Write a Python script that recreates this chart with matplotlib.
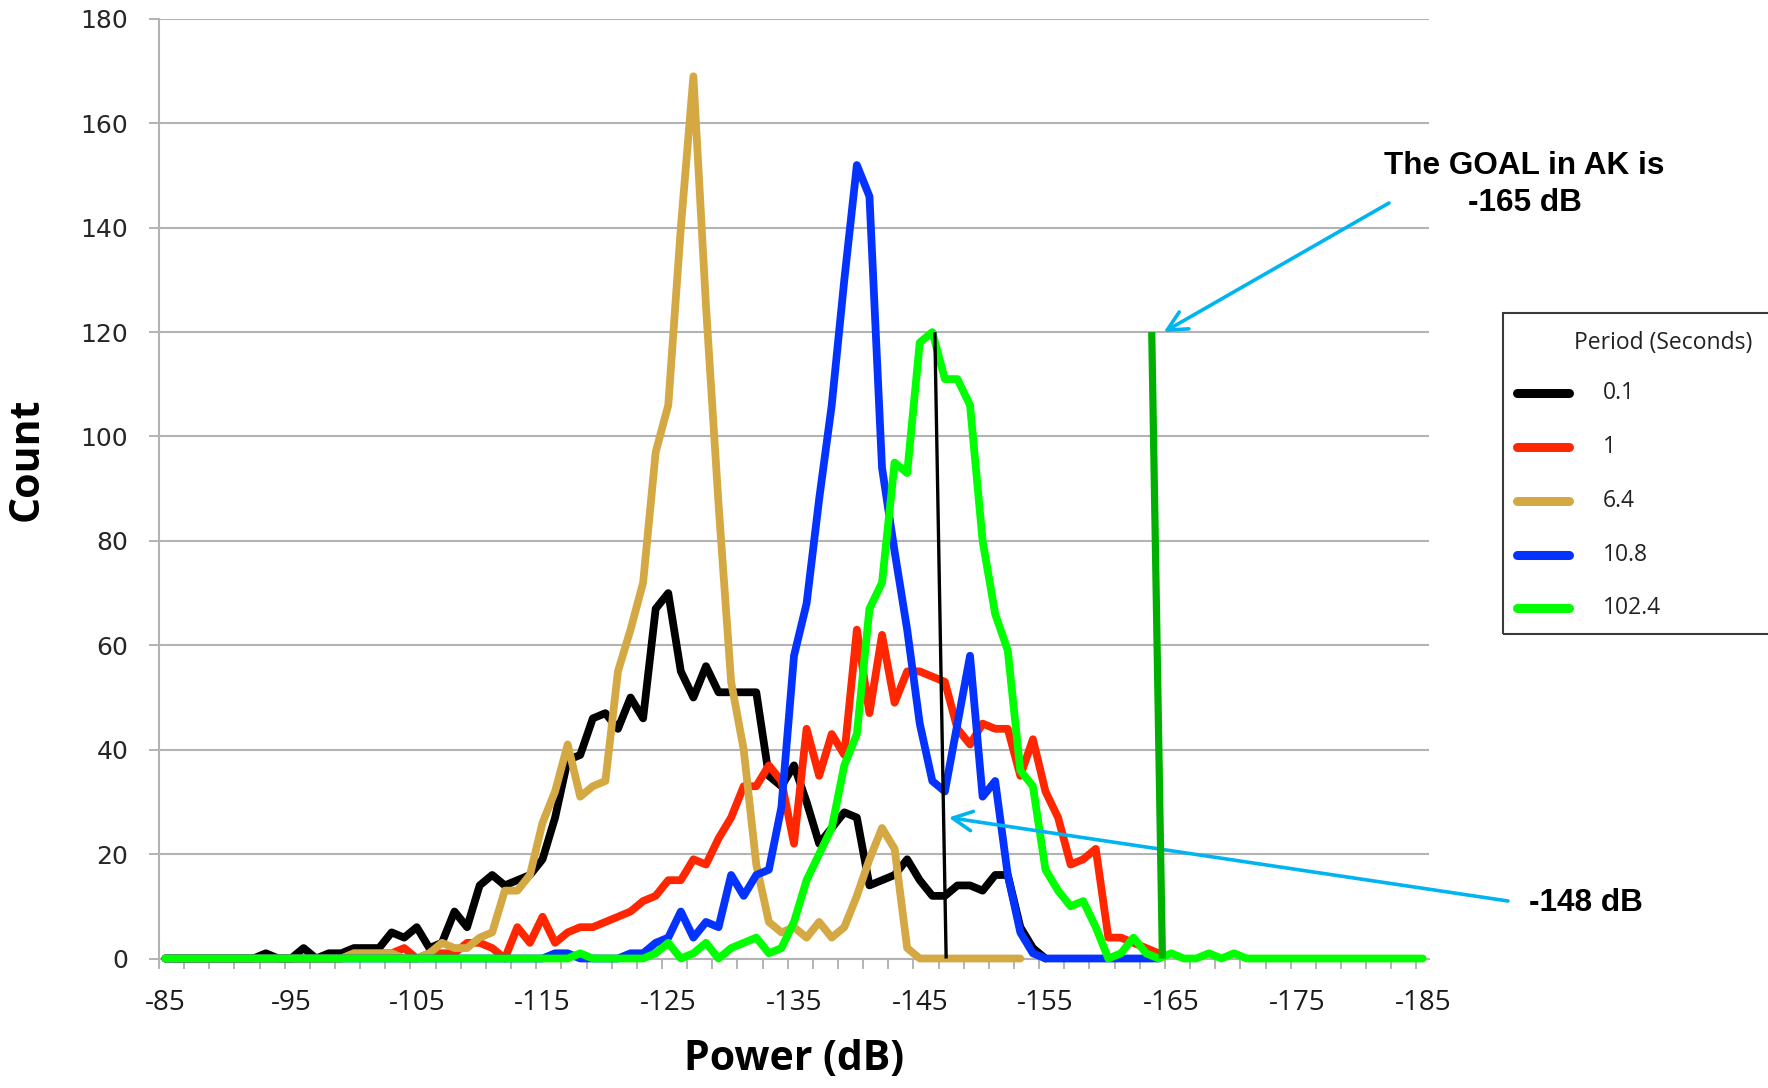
import matplotlib
matplotlib.use("Agg")
import matplotlib.pyplot as plt
from matplotlib.lines import Line2D
from matplotlib.patches import Rectangle

# power bins (category axis, 1 dB steps, shown reversed)
power_db = list(range(-85, -186, -1))

# counts per bin, one list per period; series end where the data ends
count_0_1 = [0, 0, 0, 0, 0, 0, 0, 0, 1, 0,
             0, 2, 0, 1, 1, 2, 2, 2, 5, 4,
             6, 2, 3, 9, 6, 14, 16, 14, 15, 16,
             19, 27, 38, 39, 46, 47, 44, 50, 46, 67,
             70, 55, 50, 56, 51, 51, 51, 51, 35, 33,
             37, 30, 22, 25, 28, 27, 14, 15, 16, 19,
             15, 12, 12, 14, 14, 13, 16, 16, 6, 2,
             0]
count_1 = [0, 0, 0, 0, 0, 0, 0, 0, 0, 0,
           0, 0, 0, 0, 0, 1, 1, 1, 1, 2,
           0, 1, 1, 1, 3, 3, 2, 0, 6, 3,
           8, 3, 5, 6, 6, 7, 8, 9, 11, 12,
           15, 15, 19, 18, 23, 27, 33, 33, 37, 34,
           22, 44, 35, 43, 39, 63, 47, 62, 49, 55,
           55, 54, 53, 44, 41, 45, 44, 44, 35, 42,
           32, 27, 18, 19, 21, 4, 4, 3, 2, 1]
count_6_4 = [0, 0, 0, 0, 0, 0, 0, 0, 0, 0,
             0, 0, 0, 0, 0, 1, 1, 1, 1, 0,
             0, 1, 3, 2, 2, 4, 5, 13, 13, 16,
             26, 32, 41, 31, 33, 34, 55, 63, 72, 97,
             106, 140, 169, 125, 87, 53, 40, 18, 7, 5,
             6, 4, 7, 4, 6, 12, 19, 25, 21, 2,
             0, 0, 0, 0, 0, 0, 0, 0, 0]
count_10_8 = [0, 0, 0, 0, 0, 0, 0, 0, 0, 0,
              0, 0, 0, 0, 0, 0, 0, 0, 0, 0,
              0, 0, 0, 0, 0, 0, 0, 0, 0, 0,
              0, 1, 1, 0, 0, 0, 0, 1, 1, 3,
              4, 9, 4, 7, 6, 16, 12, 16, 17, 29,
              58, 68, 88, 106, 130, 152, 146, 94, 78, 63,
              45, 34, 32, 45, 58, 31, 34, 16, 5, 1,
              0, 0, 0, 0, 0, 0, 0, 0, 0, 0]
count_102_4 = [0, 0, 0, 0, 0, 0, 0, 0, 0, 0,
               0, 0, 0, 0, 0, 0, 0, 0, 0, 0,
               0, 0, 0, 0, 0, 0, 0, 0, 0, 0,
               0, 0, 0, 1, 0, 0, 0, 0, 0, 1,
               3, 0, 1, 3, 0, 2, 3, 4, 1, 2,
               7, 15, 20, 25, 37, 43, 67, 72, 95, 93,
               118, 120, 111, 111, 106, 80, 66, 59, 36, 33,
               17, 13, 10, 11, 6, 0, 1, 4, 1, 0,
               1, 0, 0, 1, 0, 1, 0, 0, 0, 0,
               0, 0, 0, 0, 0, 0, 0, 0, 0, 0,
               0]

periods = ["0.1", "1", "6.4", "10.8", "102.4"]
series = [count_0_1, count_1, count_6_4, count_10_8, count_102_4]
colors = ["#000000", "#ff2600", "#d4a843", "#0433ff", "#00ff00"]

# hand-drawn marker lines (power, count) at their two ends
mark_148_db = [-146.2, -147.1]
mark_148_count = [120, 0]
goal_165_db = [-163.45, -164.3]
goal_165_count = [120, 0]

W, H = 1768, 1088
GRID = "#b3b3b3"
CYAN = "#00b4f0"

fig = plt.figure(figsize=(W / 100, H / 100), dpi=100)
ax = fig.add_axes([159 / W, (H - 958.5) / H, 1270 / W, 939.6 / H])

for vals, col, lab in zip(series, colors, periods):
    ax.plot(power_db[:len(vals)], vals, color=col, lw=5.6, label=lab,
            solid_joinstyle="round", solid_capstyle="round",
            clip_on=False, zorder=3)

ax.plot(mark_148_db, mark_148_count, color="black", lw=2.4, zorder=4,
        clip_on=False, solid_capstyle="butt")
ax.plot(goal_165_db, goal_165_count, color="#00b000", lw=5.2, zorder=4,
        clip_on=False, solid_capstyle="butt")

# axes, ticks, grid
ax.set_xlim(-84.5, -185.5)
ax.set_ylim(0, 180)
ax.set_xticks(power_db[::10])
ax.set_xticklabels([str(v) for v in power_db[::10]])
ax.set_xticks([d + 0.5 for d in power_db[::2]], minor=True)
ax.set_yticks(range(0, 181, 20))

ax.tick_params(axis="x", which="major", length=0, pad=22, labelsize=20,
               labelcolor="#1a1a1a")
ax.tick_params(axis="x", which="minor", length=7.2, width=1.4, color=GRID,
               direction="out")
ax.tick_params(axis="y", length=7.2, width=1.4, color=GRID, pad=15,
               labelsize=18, labelcolor="#262626")
for t in ax.get_xticklabels():
    t.set_fontfamily("Open Sans")
for t in ax.get_yticklabels():
    t.set_fontfamily("DejaVu Sans")

ax.yaxis.grid(True, color=GRID, lw=1.5)
ax.set_axisbelow(True)
for side in ["top", "right"]:
    ax.spines[side].set_visible(False)
for side in ["left", "bottom"]:
    ax.spines[side].set_color(GRID)
    ax.spines[side].set_linewidth(1.5)

ax.set_xlabel("Power (dB)", fontsize=29.5, fontweight="bold", family="Open Sans")
ax.xaxis.set_label_coords(0.5, (958.5 - 1060) / 939.6)
ax.xaxis.label.set_va("center")
ax.set_ylabel("Count", fontsize=29.5, fontweight="bold", family="Open Sans")
ax.yaxis.set_label_coords((27 - 159) / 1270, (958.5 - 459.6) / 939.6)
ax.yaxis.label.set_va("center")

# annotations
arrow = dict(arrowstyle="->,head_length=0.7,head_width=0.35", color=CYAN,
             lw=2.6, mutation_scale=20, shrinkA=0, shrinkB=0)
ax.annotate("", xy=(-164.4, 120), xycoords="data",
            xytext=(1389, H - 203), textcoords="figure pixels",
            arrowprops=arrow, annotation_clip=False)
ax.annotate("", xy=(-147.3, 27), xycoords="data",
            xytext=(1508, H - 901), textcoords="figure pixels",
            arrowprops=arrow, annotation_clip=False)
fig.text(1524.5 / W, (H - 184.4) / H, "The GOAL in AK is\n-165 dB",
         ha="center", va="center", multialignment="center",
         fontsize=22.7, fontweight="bold", family="Liberation Sans",
         linespacing=1.3)
fig.text(1585.5 / W, (H - 903) / H, "-148 dB", ha="center", va="center",
         fontsize=22.7, fontweight="bold", family="Liberation Sans")

# legend box, drawn by hand because it runs off the right edge
fig.add_artist(Rectangle((1503 / W, (H - 634) / H), 320 / W, 321 / H,
                         transform=fig.transFigure, fill=False,
                         ec="#3a3a3a", lw=1.5, clip_on=False))
fig.text(1574 / W, (H - 343) / H, "Period (Seconds)", ha="left",
         va="center", fontsize=16.5, family="Open Sans", color="#222222")
for k, (lab, col) in enumerate(zip(periods, colors)):
    yy = (H - (393.3 + 53.75 * k)) / H
    fig.add_artist(Line2D([1517 / W, 1569 / W], [yy, yy],
                          transform=fig.transFigure, color=col, lw=6.5,
                          solid_capstyle="round"))
    fig.text(1603 / W, yy, lab, ha="left", va="center", fontsize=16.5,
             family="Open Sans", color="#222222")

fig.savefig("out.png", dpi=100)
plt.close(fig)
